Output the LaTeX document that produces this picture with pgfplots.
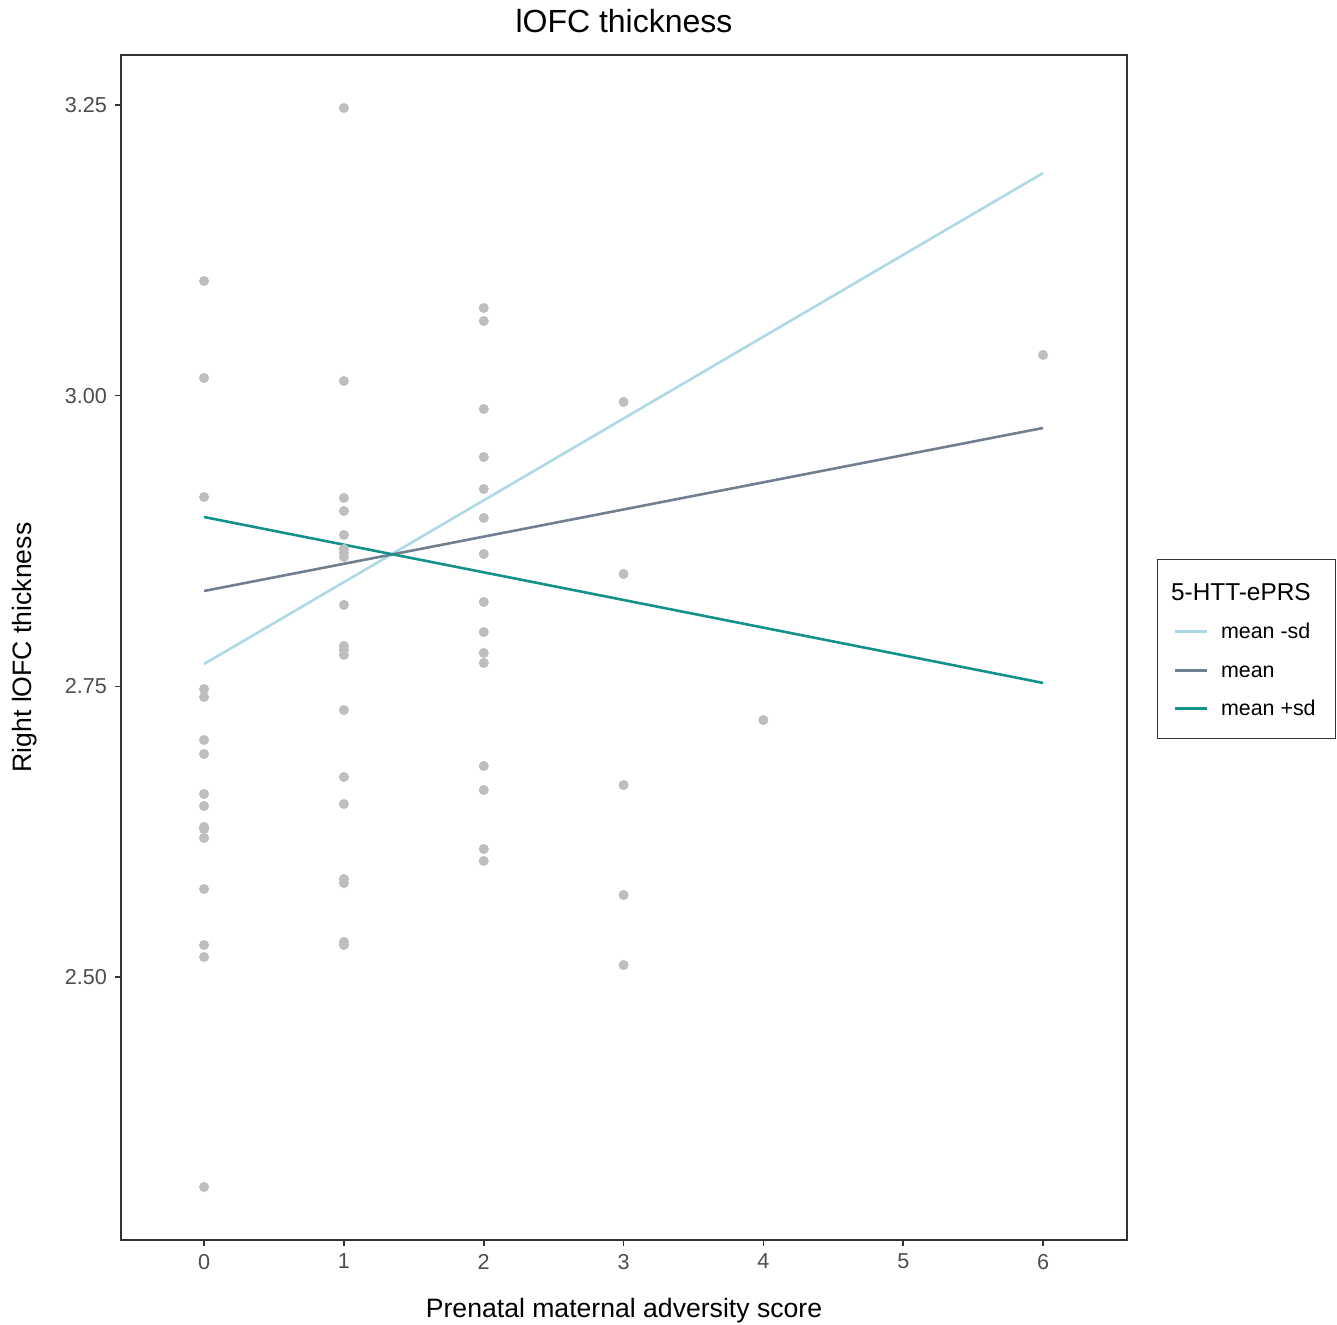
\documentclass[border=0pt]{standalone}
\usepackage{fontspec}
\setmainfont{Liberation Sans}
\usepackage{pgfplots}
\pgfplotsset{compat=1.18}
\definecolor{ptgray}{HTML}{BEBEBE}
\definecolor{lblue}{HTML}{ADD8E6}
\definecolor{slate}{HTML}{708090}
\definecolor{tealc}{HTML}{14918B}
\definecolor{gray30}{HTML}{4D4D4D}
\definecolor{gray20}{HTML}{333333}
\begin{document}
\begin{tikzpicture}
\begin{axis}[
  scale only axis,
  width=503pt, height=592.5pt,
  xmin=-0.594, xmax=6.6,
  ymin=2.2738, ymax=3.293,
  xtick={0,1,2,3,4,5,6},
  ytick={2.50,2.75,3.00,3.25},
  yticklabels={2.50,2.75,3.00,3.25},
  /pgf/number format/assume math mode=true,
  tick align=outside,
  major tick length=3pt,
  tick style={gray20, line width=0.8pt},
  xtick pos=bottom, ytick pos=left,
  axis line style={gray20, line width=0.6pt},
  ticklabel style={font=\fontsize{10.8}{12}\selectfont, text=gray30},
  yticklabel style={xshift=-0.5pt},
  xticklabel style={yshift=-0.5pt},
  every axis title shift=0pt,
  title={lOFC thickness},
  title style={at={(axis description cs:0.5,1)}, anchor=base, yshift=11pt, font=\fontsize{16}{18}\selectfont},
  xlabel={Prenatal maternal adversity score},
  ylabel={Right lOFC thickness},
  xlabel style={at={(axis description cs:0.5,-0.0599)}, anchor=center, font=\fontsize{13.3}{15}\selectfont},
  ylabel style={at={(axis description cs:-0.0954,0.5)}, anchor=center, font=\fontsize{13.3}{15}\selectfont},
  legend style={at={(axis description cs:1.0298,0.5747)}, anchor=north west,
    draw=gray20, line width=0.5pt, font=\fontsize{10.7}{12.5}\selectfont,
    inner xsep=8pt, inner ysep=8pt, row sep=5pt, cells={anchor=west}},
  legend cell align=left,
  legend image code/.code={\draw[#1, line width=1.3pt] (0pt,0pt) -- (16pt,0pt); \path (20.5pt,0pt);},
]
\addlegendimage{empty legend}
\addlegendentry{\hspace{-25pt}\fontsize{12.2}{15}\selectfont\strut 5-HTT-ePRS}
\addplot[only marks, mark=*, mark size=2.3pt, color=ptgray, forget plot] coordinates {
(0,3.0986) (0,3.0152) (0,2.9128) (0,2.7477) (0,2.7408) (0,2.7038) (0,2.6918) (0,2.6574)
(0,2.6471) (0,2.6290) (0,2.6273) (0,2.6196) (0,2.5757) (0,2.5275) (0,2.5172) (0,2.3194)
(1,3.2474) (1,3.0126) (1,2.9120) (1,2.9008) (1,2.8802) (1,2.8681) (1,2.8647) (1,2.8612)
(1,2.8200) (1,2.7847) (1,2.7813) (1,2.7770) (1,2.7296) (1,2.6720) (1,2.6488) (1,2.5843)
(1,2.5808) (1,2.5301) (1,2.5275)
(2,3.0754) (2,3.0642) (2,2.9885) (2,2.9472) (2,2.9197) (2,2.8948) (2,2.8638) (2,2.8225)
(2,2.7967) (2,2.7787) (2,2.7701) (2,2.6815) (2,2.6608) (2,2.6101) (2,2.5998)
(3,2.9946) (3,2.8466) (3,2.6651) (3,2.5705) (3,2.5103)
(4,2.7210)
(6,3.0350)
};
\addplot[lblue, line width=1.3pt, no marks] coordinates {(0,2.7692) (6,3.1915)};
\addlegendentry{\strut mean -sd}
\addplot[slate, line width=1.3pt, no marks] coordinates {(0,2.8320) (6,2.9722)};
\addlegendentry{\strut mean}
\addplot[tealc, line width=1.3pt, no marks] coordinates {(0,2.8956) (6,2.7529)};
\addlegendentry{\strut mean +sd}
\end{axis}
\pgfresetboundingbox
\path[use as bounding box] (-60.5pt,-42.5pt) rectangle (608pt,620pt);
\end{tikzpicture}
\end{document}
